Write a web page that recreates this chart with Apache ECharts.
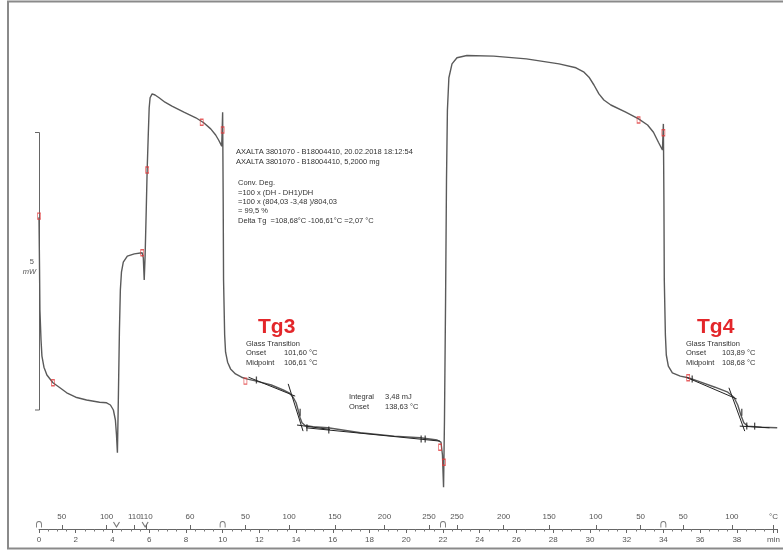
<!DOCTYPE html>
<html>
<head>
<meta charset="utf-8">
<script src="https://cdn.jsdelivr.net/npm/echarts@6/dist/echarts.min.js"></script>
<style>
  html, body { margin: 0; padding: 0; background: #fff; }
  #chart { width: 783px; height: 554px; }
</style>
</head>
<body>
<div id="chart"></div>
<script>
// DSC curve, [time min, heat flow mW] (offset is arbitrary, scale bar = 5 mW)
const segHeat1 = [
  [0.00, 5.27], [0.03, 4.32], [0.05, 3.60], [0.11, 3.06], [0.16, 2.77], [0.27, 2.57],
  [0.43, 2.43], [0.76, 2.29], [1.14, 2.20], [1.51, 2.11], [2.00, 2.03], [2.59, 1.98],
  [3.30, 1.94], [3.68, 1.93], [3.89, 1.89], [4.05, 1.80], [4.16, 1.62], [4.22, 1.35],
  [4.27, 1.03]
];
const segIso = [
  [4.32, 1.98], [4.38, 3.24], [4.43, 3.96], [4.49, 4.28], [4.59, 4.46], [4.81, 4.57],
  [5.19, 4.61], [5.62, 4.63], [5.68, 4.54], [5.73, 4.14]
];
const segCool1 = [
  [5.78, 4.59], [5.84, 5.40], [5.89, 6.12], [5.95, 6.75], [6.00, 7.24], [6.05, 7.42],
  [6.16, 7.49], [6.32, 7.47], [6.54, 7.42], [6.86, 7.34], [7.24, 7.27], [7.89, 7.16],
  [8.54, 7.06], [8.97, 6.97], [9.35, 6.86], [9.62, 6.75], [9.78, 6.66], [9.89, 6.59],
  [9.95, 6.55], [10.00, 7.16]
];
const segHeat2 = [
  [10.03, 5.58], [10.05, 4.14], [10.11, 3.15], [10.16, 2.84], [10.27, 2.66], [10.43, 2.54],
  [10.70, 2.45], [11.03, 2.39], [11.30, 2.36], [11.84, 2.32], [12.65, 2.25], [13.30, 2.16],
  [13.62, 2.11], [13.84, 2.03], [14.00, 1.93], [14.11, 1.80], [14.22, 1.66], [14.32, 1.57],
  [14.49, 1.52], [14.92, 1.50], [15.73, 1.48], [17.51, 1.39], [19.35, 1.33], [20.76, 1.30],
  [21.68, 1.26], [21.89, 1.22], [21.97, 0.99], [22.03, 0.41]
];
const segCool2 = [
  [22.08, 1.62], [22.14, 3.78], [22.19, 5.94], [22.24, 7.20], [22.32, 7.78], [22.49, 8.03],
  [22.76, 8.14], [23.30, 8.18], [24.76, 8.17], [26.54, 8.12], [28.32, 8.03], [29.24, 7.96],
  [29.68, 7.88], [29.95, 7.79], [30.22, 7.65], [30.49, 7.49], [30.76, 7.38], [31.14, 7.29],
  [31.95, 7.16], [32.65, 7.04], [33.14, 6.93], [33.46, 6.80], [33.73, 6.62], [33.95, 6.48],
  [34.00, 6.95]
];
const segHeat3 = [
  [34.03, 5.58], [34.05, 4.14], [34.11, 3.15], [34.16, 2.79], [34.27, 2.59], [34.49, 2.47],
  [34.92, 2.41], [35.35, 2.38], [35.89, 2.32], [36.81, 2.21], [37.51, 2.12], [37.84, 2.03],
  [38.05, 1.89], [38.22, 1.71], [38.38, 1.57], [38.59, 1.51], [39.35, 1.49], [40.20, 1.48]
];

// evaluation lines (tangents, integral baseline)
const tangentLines = [
  [[11.41, 2.39], [13.95, 2.05]],
  [[13.57, 2.27], [14.38, 1.42]],
  [[14.05, 1.53], [15.84, 1.45]],
  [[14.54, 1.48], [21.84, 1.24]],
  [[35.24, 2.39], [37.99, 2.00]],
  [[37.57, 2.20], [38.43, 1.42]],
  [[38.16, 1.51], [39.78, 1.48]]
];
const tangentTicks = [
  [11.84, 2.34], [14.22, 1.76], [14.59, 1.48], [15.78, 1.44], [20.81, 1.28], [21.03, 1.28],
  [35.57, 2.36], [38.27, 1.76], [38.54, 1.51], [38.97, 1.51]
];
const segmentFlags = [
  [0.00, 5.29], [0.76, 2.29], [5.62, 4.63], [5.89, 6.12], [8.86, 6.98], [10.00, 6.84],
  [11.24, 2.32], [21.84, 1.13], [22.05, 0.86], [32.65, 7.02], [34.00, 6.79], [35.35, 2.38]
];

// axis decorations: segment starts and holds
const segStarts = [0, 10, 22, 34];
const holdMarks = [4.22, 5.78];

// temperature scale (positions in min)
const tempTickTimes = [1.24, 3.68, 5.19, 5.84, 8.22, 11.24, 13.62, 16.11, 18.81, 21.24,
  22.76, 25.3, 27.78, 30.32, 32.76, 35.08, 37.73, 40];
const tempTickLabels = ['50', '100', '110', '110', '60', '50', '100', '150', '200', '250',
  '250', '200', '150', '100', '50', '50', '100', '°C'];

const chart = echarts.init(document.getElementById('chart'));

const FONT = '"Liberation Sans", Arial, sans-serif';
const txt = (x, y, text, extra) => ({
  type: 'text', x: x, y: y, z: 10,
  style: Object.assign({
    text: text, fontSize: 7.5, fontFamily: FONT, fill: '#333',
    lineHeight: 9.6, verticalAlign: 'top'
  }, extra || {})
});

const curve = [].concat(segHeat1, segIso, segCool1, segHeat2, segCool2, segHeat3);

const series = [
  {
    name: 'DSC', type: 'line', data: curve, showSymbol: false, smooth: false,
    lineStyle: { color: '#5a5a5a', width: 1.4 }, z: 3
  }
];
tangentLines.forEach(seg => {
  series.push({
    type: 'line', data: seg, showSymbol: false,
    lineStyle: { color: '#222', width: 1 }, z: 4
  });
});
series.push({
  type: 'scatter', data: tangentTicks, symbol: 'rect', symbolSize: [1.3, 7],
  itemStyle: { color: '#222' }, z: 5
});
series.push({
  type: 'scatter', data: segmentFlags, symbol: 'rect', symbolSize: [3, 6],
  itemStyle: { color: 'rgba(0,0,0,0)', borderColor: '#e0393b', borderWidth: 1 }, z: 6
});
series.push({
  type: 'scatter', clip: false, data: segStarts.map(t => [t, -0.26]),
  symbol: 'path://M0,10 L0,5 C0,-1 8,-1 8,5 L8,10', symbolSize: [5, 6],
  itemStyle: { color: 'rgba(0,0,0,0)', borderColor: '#555', borderWidth: 1 }
});
series.push({
  type: 'scatter', clip: false, data: holdMarks.map(t => [t, -0.26]),
  symbol: 'path://M0,0 L5,8 L10,0', symbolSize: [6, 5],
  itemStyle: { color: 'rgba(0,0,0,0)', borderColor: '#555', borderWidth: 1 }
});

const option = {
  animation: false,
  backgroundColor: '#fff',
  // grid bottom = time axis line (y 529); 55.56 px per mW
  grid: { left: 39, top: 10, width: 743.7, height: 519 },
  xAxis: [
    {
      type: 'value', min: 0, max: 40.2, interval: 2, position: 'bottom',
      axisLine: { onZero: false, lineStyle: { color: '#666', width: 1 } },
      axisTick: { length: 4, lineStyle: { color: '#666' } },
      minorTick: { show: true, splitNumber: 4, length: 2.5, lineStyle: { color: '#777' } },
      splitLine: { show: false },
      axisLabel: {
        fontSize: 8, fontFamily: FONT, color: '#555', margin: 7,
        formatter: v => (v === 40 ? 'min' : (v % 2 === 0 ? String(v) : ''))
      }
    },
    {
      type: 'value', min: 0, max: 40.2, position: 'bottom',
      axisLine: { show: false, onZero: false },
      axisTick: { show: true, inside: true, length: 4, customValues: tempTickTimes, lineStyle: { color: '#666' } },
      splitLine: { show: false },
      axisLabel: {
        inside: true, customValues: tempTickTimes, fontSize: 8, fontFamily: FONT,
        color: '#555', margin: 8,
        formatter: v => {
          let best = 0;
          tempTickTimes.forEach((t, i) => { if (Math.abs(t - v) < Math.abs(tempTickTimes[best] - v)) best = i; });
          return tempTickLabels[best];
        }
      }
    }
  ],
  yAxis: { type: 'value', min: -0.342, max: 9, show: false },
  series: series,
  graphic: [
    // frame
    { type: 'rect', shape: { x: 8, y: 1.5, width: 790, height: 547 },
      style: { fill: 'none', stroke: '#8a8a8a', lineWidth: 2 }, z: 0 },
    // 5 mW scale bar
    { type: 'polyline', shape: { points: [[35, 132.5], [39.5, 132.5], [39.5, 410], [35, 410]] },
      style: { fill: 'none', stroke: '#666', lineWidth: 1 }, z: 2 },
    txt(34, 257, '5', { textAlign: 'right', fill: '#555' }),
    txt(36, 267, 'mW', { textAlign: 'right', fill: '#555', fontStyle: 'italic' }),
    // header
    txt(236, 146.5, 'AXALTA 3801070 - B18004410, 20.02.2018 18:12:54\nAXALTA 3801070 - B18004410, 5,2000 mg', { lineHeight: 10.5 }),
    txt(238, 178.5, 'Conv. Deg.\n=100 x (DH - DH1)/DH\n=100 x (804,03 -3,48 )/804,03\n= 99,5 %\nDelta Tg  =108,68°C -106,61°C =2,07 °C', { lineHeight: 9.4 }),
    // Tg3
    txt(258, 316, 'Tg3', { fontSize: 21, fontWeight: 'bold', fill: '#e3262a', lineHeight: 22 }),
    txt(246, 339, 'Glass Transition\nOnset\nMidpoint'),
    txt(284, 339, '\n101,60 °C\n106,61 °C'),
    // integral
    txt(349, 392, 'Integral\nOnset', { lineHeight: 10 }),
    txt(385, 392, '3,48 mJ\n138,63 °C', { lineHeight: 10 }),
    // Tg4
    txt(697, 316, 'Tg4', { fontSize: 21, fontWeight: 'bold', fill: '#e3262a', lineHeight: 22 }),
    txt(686, 339, 'Glass Transition\nOnset\nMidpoint'),
    txt(722, 339, '\n103,89 °C\n108,68 °C')
  ]
};

chart.setOption(option);
</script>
</body>
</html>
